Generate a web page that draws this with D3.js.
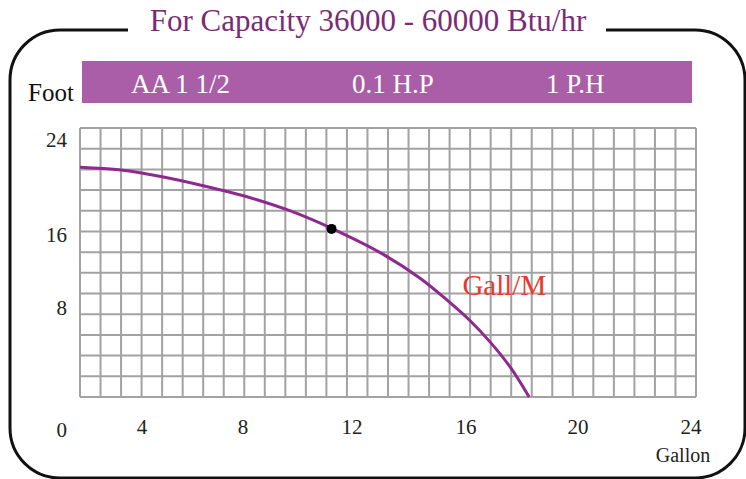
<!DOCTYPE html>
<html>
<head>
<meta charset="utf-8">
<script src="https://cdn.jsdelivr.net/npm/d3@7"></script>
<style>
body { margin: 0; background: #fff; }
text { font-family: "Liberation Serif", "Times New Roman", serif; }
</style>
</head>
<body>
<div id="chart"></div>
<script>
// dimensions
var width = 746;
var height = 479;

// data
var title = "For Capacity 36000 - 60000 Btu/hr";
var headerLabels = ["AA 1 1/2", "0.1 H.P", "1 P.H"];
var xTicks = [4, 8, 12, 16, 20, 24];
var yTicks = [0, 8, 16, 24];
var gallons = [0, 1.6, 3.2, 4.8, 6.6, 8.2, 9.8, 11.8, 13.25, 14.35, 15.2, 16.0, 16.75, 17.5];
var feet = [20.5, 20.25, 19.65, 18.85, 17.8, 16.6, 15.05, 12.75, 10.6, 8.55, 6.8, 4.85, 2.7, 0];
var opPoint = [9.8, 15.0];
var curveName = "Gall/M";
var curveNameAt = [14.9, 9.1];

// layout
var plot = {left: 80, right: 696, top: 128, bottom: 397};
var gridCols = 30, gridRows = 13;
var headerX = [131, 352, 546];

var svg = d3.select("#chart")
    .append("svg")
    .attr("width", width)
    .attr("height", height);

var x = d3.scaleLinear().domain([0, 24]).range([plot.left, plot.right]);
var y = d3.scaleLinear().domain([0, 24]).range([plot.bottom, plot.top]);

// tick text sits a little off the grid in the original
var xLabel = d3.scaleLinear().domain(xTicks).range([142, 243, 352, 466, 578, 691]);
var yLabel = d3.scaleLinear().domain(yTicks).range([437, 315, 242, 147]);

// frame
svg.append("rect")
    .attr("x", 10)
    .attr("y", 30)
    .attr("width", 735)
    .attr("height", 448)
    .attr("rx", 50)
    .attr("fill", "none")
    .attr("stroke", "#111")
    .attr("stroke-width", 3);

svg.append("rect")
    .attr("x", 128)
    .attr("y", 20)
    .attr("width", 478)
    .attr("height", 20)
    .attr("fill", "#fff");

svg.append("text")
    .attr("x", 368)
    .attr("y", 31)
    .attr("text-anchor", "middle")
    .attr("font-size", "31px")
    .attr("fill", "#7a2b76")
    .text(title);

// header bar
svg.append("rect")
    .attr("x", 82)
    .attr("y", 61)
    .attr("width", 610)
    .attr("height", 42)
    .attr("fill", "#a95ea7");

svg.selectAll(".head")
    .data(headerLabels)
    .enter()
    .append("text")
    .attr("class", "head")
    .attr("x", function (d, i) { return headerX[i]; })
    .attr("y", 93)
    .attr("font-size", "27px")
    .attr("fill", "#fff")
    .text(function (d) { return d; });

svg.append("text")
    .attr("x", 28)
    .attr("y", 101)
    .attr("font-size", "25px")
    .attr("fill", "#111")
    .text("Foot");

// grid
var grid = svg.append("g");
grid.selectAll(".vl")
    .data(d3.range(gridCols + 1))
    .enter()
    .append("line")
    .attr("x1", function (d) { return x(d * 24 / gridCols); })
    .attr("x2", function (d) { return x(d * 24 / gridCols); })
    .attr("y1", y(0))
    .attr("y2", y(24))
    .attr("stroke", "#a2a2a2")
    .attr("stroke-width", 2);
grid.selectAll(".hl")
    .data(d3.range(gridRows + 1))
    .enter()
    .append("line")
    .attr("y1", function (d) { return y(d * 24 / gridRows); })
    .attr("y2", function (d) { return y(d * 24 / gridRows); })
    .attr("x1", x(0))
    .attr("x2", x(24))
    .attr("stroke", "#a2a2a2")
    .attr("stroke-width", 2);

// tick labels
svg.selectAll(".xt")
    .data(xTicks)
    .enter()
    .append("text")
    .attr("x", function (d) { return xLabel(d); })
    .attr("y", 434)
    .attr("text-anchor", "middle")
    .attr("font-size", "21px")
    .attr("fill", "#222")
    .text(function (d) { return d; });

svg.selectAll(".yt")
    .data(yTicks)
    .enter()
    .append("text")
    .attr("x", 67)
    .attr("y", function (d) { return yLabel(d); })
    .attr("text-anchor", "end")
    .attr("font-size", "21px")
    .attr("fill", "#222")
    .text(function (d) { return d; });

svg.append("text")
    .attr("x", 683)
    .attr("y", 462)
    .attr("text-anchor", "middle")
    .attr("font-size", "20px")
    .attr("fill", "#222")
    .text("Gallon");

// pump curve
var pts = gallons.map(function (g, i) { return [g, feet[i]]; });
svg.append("path")
    .datum(pts)
    .attr("d", d3.line()
        .x(function (d) { return x(d[0]); })
        .y(function (d) { return y(d[1]); })
        .curve(d3.curveCatmullRom.alpha(0.5)))
    .attr("fill", "none")
    .attr("stroke", "#8e2a8f")
    .attr("stroke-width", 3);

svg.append("circle")
    .attr("cx", x(opPoint[0]))
    .attr("cy", y(opPoint[1]))
    .attr("r", 5)
    .attr("fill", "#000");

svg.append("text")
    .attr("x", x(curveNameAt[0]))
    .attr("y", y(curveNameAt[1]))
    .attr("font-size", "29px")
    .attr("fill", "#e8392f")
    .text(curveName);
</script>
</body>
</html>
